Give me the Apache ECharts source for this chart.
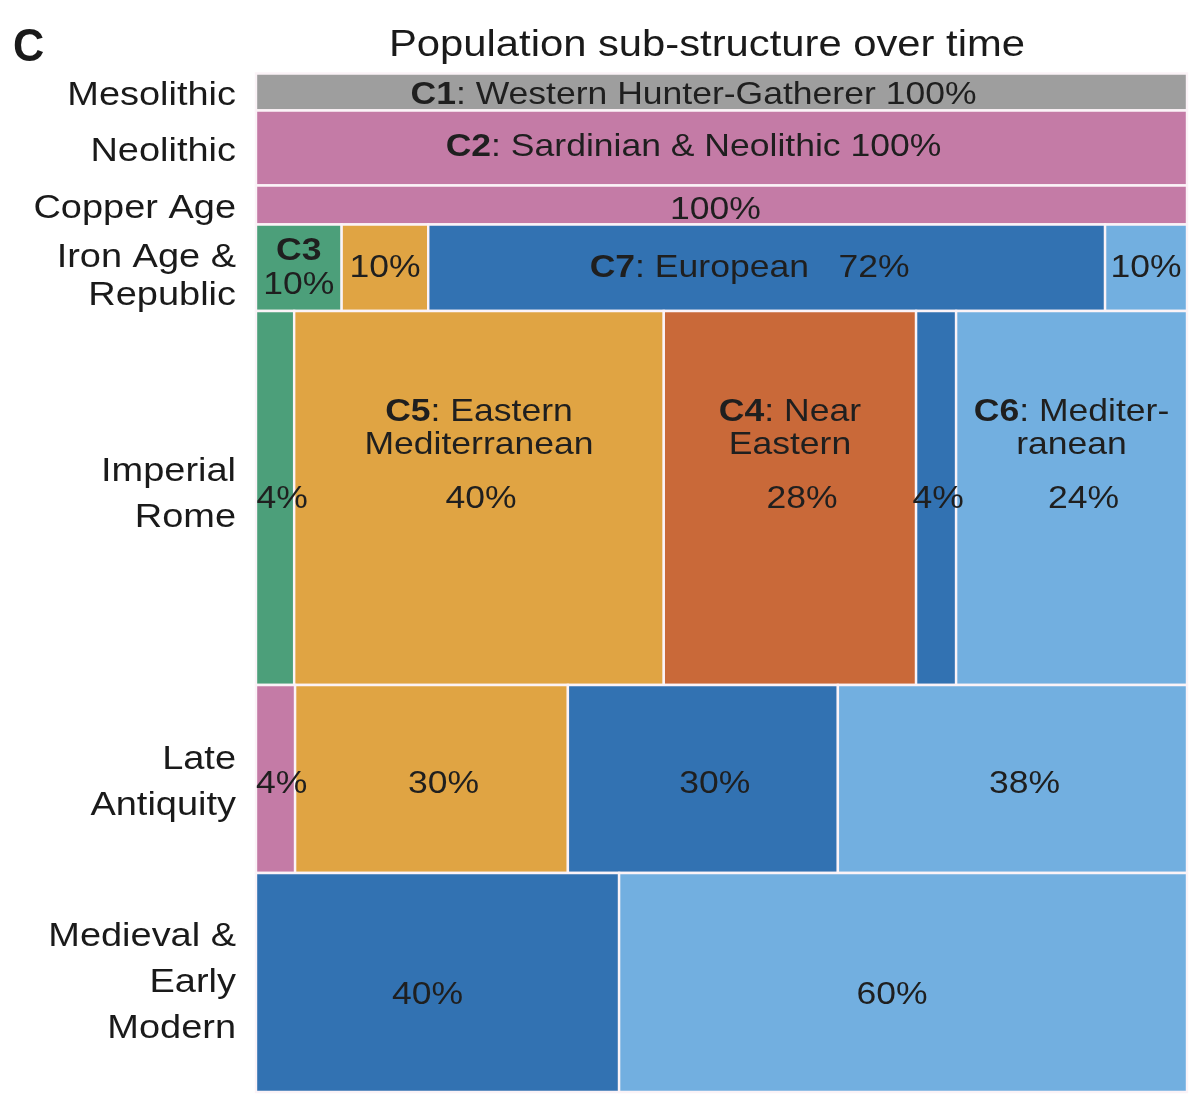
<!DOCTYPE html>
<html>
<head>
<meta charset="utf-8">
<script src="https://cdn.jsdelivr.net/npm/echarts@6/dist/echarts.min.js"></script>
<style>
  html, body { margin: 0; padding: 0; background: #fff; }
  #main { width: 1200px; height: 1103px; }
</style>
</head>
<body>
<div id="main"></div>
<script>
// periods, top to bottom
const periods = ['Mesolithic', 'Neolithic', 'Copper Age', 'Iron Age &\nRepublic', 'Imperial\nRome', 'Late\nAntiquity', 'Medieval &\nEarly\nModern'];
// relative row heights
const rowHeights = [37, 75, 39, 86.5, 374, 188, 219];
// widths of each segment in a row (share of the row)
const rowShares = [
    [100],
    [100],
    [100],
    [9.2, 9.3, 72.7, 8.8],
    [4.1, 39.7, 27.1, 4.3, 24.8],
    [4.2, 29.3, 29.0, 37.5],
    [39, 61]
];
// cluster of each segment
const rowClusters = [
    ['C1'],
    ['C2'],
    ['C2'],
    ['C3', 'C5', 'C7', 'C6'],
    ['C3', 'C5', 'C4', 'C7', 'C6'],
    ['C2', 'C5', 'C7', 'C6'],
    ['C7', 'C6']
];
// printed percentages
const rowPct = [
    ['100%'],
    ['100%'],
    ['100%'],
    ['10%', '10%', '72%', '10%'],
    ['4%', '40%', '28%', '4%', '24%'],
    ['4%', '30%', '30%', '38%'],
    ['40%', '60%']
];
// 0 = only the percentage, 1 = code + name, 2 = code only
const rowNamed = [
    [1],
    [1],
    [0],
    [2, 0, 1, 0],
    [0, 1, 1, 0, 1],
    [0, 0, 0, 0],
    [0, 0]
];
const clusterNames = {
    C1: 'Western Hunter-Gatherer',
    C2: 'Sardinian & Neolithic',
    C4: 'Near\nEastern',
    C5: 'Eastern\nMediterranean',
    C6: 'Mediter-\nranean',
    C7: 'European'
};
const clusterColors = {
    C1: '#9e9e9e',
    C2: '#c47ba6',
    C3: '#4c9f7a',
    C4: '#c96939',
    C5: '#e0a443',
    C6: '#72afe0',
    C7: '#3272b2'
};

// layout: small nudges of the in-cell labels (px), as placed in the original
const labelNudge = {
    '0-0': [-28, 3], '1-0': [-28, -1], '2-0': [-6, 5], '3-2': [-17, 0],
    '4-0': [7, 1], '4-2': [12, 1], '4-4': [12, 1], '4-1': [2, 1], '4-3': [2, 1],
    '5-0': [6, 5], '5-1': [12, 5], '5-2': [12, 5], '5-3': [12, 5],
    '6-0': [-10, 13], '6-1': [-11, 13]
};

const FONT = '"Liberation Sans", Arial, Helvetica, sans-serif';
const TXT = '#1f1f1f';
const total = rowHeights.reduce((a, b) => a + b, 0);

// build cells
const cells = [];
const rowMarks = [];
let yAcc = 0;
rowHeights.forEach((h, r) => {
    let xAcc = 0;
    const sum = rowShares[r].reduce((a, b) => a + b, 0);
    rowShares[r].forEach((s, c) => {
        const w = s / sum * 100;
        cells.push([xAcc, xAcc + w, yAcc, yAcc + h, r, c]);
        xAcc += w;
    });
    rowMarks.push([yAcc + h / 2, r]);
    yAcc += h;
});

function cellText(r, c) {
    const code = rowClusters[r][c];
    const pct = rowPct[r][c];
    const mode = rowNamed[r][c];
    if (mode === 2) return { top: null, mid: '{b|' + code + '}\n' + pct };
    if (mode === 1) {
        const name = clusterNames[code];
        if (name.indexOf('\n') >= 0) {
            const parts = name.split('\n');
            return { top: '{b|' + code + '}: ' + parts[0] + '\n' + parts[1], mid: pct };
        }
        if (r === 3) return { top: null, mid: '{b|' + code + '}: ' + name + '   ' + pct };
        return { top: null, mid: '{b|' + code + '}: ' + name + ' ' + pct };
    }
    return { top: null, mid: pct };
}

const chart = echarts.init(document.getElementById('main'));
chart.setOption({
    animation: false,
    backgroundColor: '#fff',
    grid: { left: 256, right: 13, top: 73.5, bottom: 11 },
    xAxis: { type: 'value', min: 0, max: 100, show: false },
    yAxis: { type: 'value', min: 0, max: total, inverse: true, show: false },
    graphic: [
        {
            type: 'text', x: 13, y: 48, scaleX: 0.92,
            style: { text: 'C', font: 'bold 47px ' + FONT, fill: '#1a1a1a', verticalAlign: 'middle' }
        },
        {
            type: 'text', x: 707, y: 46, scaleX: 1.16,
            style: {
                text: 'Population sub-structure over time', font: '36px ' + FONT,
                fill: '#1a1a1a', align: 'center', verticalAlign: 'middle'
            }
        }
    ],
    series: [
        {
            type: 'custom',
            coordinateSystem: 'cartesian2d',
            data: cells,
            encode: { x: [0, 1], y: [2, 3] },
            renderItem: function (params, api) {
                const p0 = api.coord([api.value(0), api.value(2)]);
                const p1 = api.coord([api.value(1), api.value(3)]);
                const r = api.value(4), c = api.value(5);
                const code = rowClusters[r][c];
                const t = cellText(r, c);
                const nudge = labelNudge[r + '-' + c] || [0, 0];
                const cx = (p0[0] + p1[0]) / 2;
                const cy = (p0[1] + p1[1]) / 2;
                const rich = {
                    b: { font: 'bold 32px ' + FONT, fill: TXT, lineHeight: 34 }
                };
                const children = [{
                    type: 'rect',
                    shape: { x: p0[0], y: p0[1], width: p1[0] - p0[0], height: p1[1] - p0[1] },
                    style: { fill: clusterColors[code], stroke: '#fbf3f7', lineWidth: 2.4 }
                }];
                children.push({
                    type: 'text',
                    z2: 10,
                    x: cx + nudge[0], y: cy + nudge[1], scaleX: 1.11,
                    style: {
                        x: 0, y: 0, text: t.mid, rich: rich,
                        font: '32px ' + FONT, fill: TXT, lineHeight: 34,
                        align: 'center', verticalAlign: 'middle'
                    }
                });
                if (t.top) {
                    children.push({
                        type: 'text',
                        z2: 10,
                        x: cx, y: p0[1] + 117, scaleX: 1.11,
                        style: {
                            x: 0, y: 0, text: t.top, rich: rich,
                            font: '32px ' + FONT, fill: TXT, lineHeight: 31,
                            align: 'center', verticalAlign: 'middle'
                        }
                    });
                }
                return { type: 'group', children: children };
            }
        },
        {
            type: 'custom',
            coordinateSystem: 'cartesian2d',
            data: rowMarks,
            encode: { y: 0 },
            renderItem: function (params, api) {
                const p = api.coord([0, api.value(0)]);
                const r = api.value(1);
                const dy = r === 3 ? 9 : (r === 4 ? -3 : (r === 6 ? 0 : 4));
                return {
                    type: 'text',
                    x: p[0] - 20, y: p[1] + dy, scaleX: 1.15,
                    style: {
                        x: 0, y: 0, text: periods[r],
                        font: '33px ' + FONT, fill: '#1a1a1a', lineHeight: r === 3 ? 38 : 46,
                        align: 'right', verticalAlign: 'middle'
                    }
                };
            }
        }
    ]
});
</script>
</body>
</html>
